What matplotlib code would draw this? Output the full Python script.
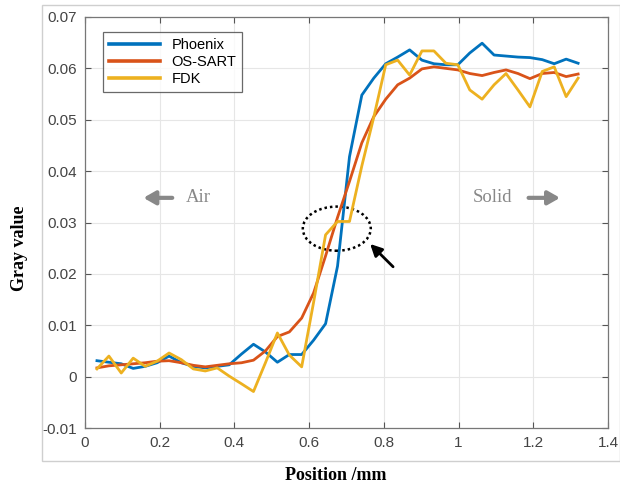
import matplotlib
matplotlib.use("Agg")
import matplotlib.pyplot as plt
from matplotlib.patches import Ellipse, Rectangle

# sample positions (mm)
position = [0.032, 0.064, 0.097, 0.129, 0.161, 0.193, 0.225, 0.258, 0.290, 0.322,
            0.354, 0.386, 0.419, 0.451, 0.483, 0.515, 0.547, 0.580, 0.612, 0.644,
            0.676, 0.708, 0.741, 0.773, 0.805, 0.837, 0.869, 0.902, 0.934, 0.966,
            0.998, 1.030, 1.063, 1.095, 1.127, 1.159, 1.191, 1.224, 1.256, 1.288,
            1.320]

phoenix = [0.0031, 0.0028, 0.0025, 0.0016, 0.0020, 0.0027, 0.0040, 0.0027, 0.0020, 0.0017,
           0.0020, 0.0023, 0.0044, 0.0063, 0.0048, 0.0028, 0.0043, 0.0043, 0.0071, 0.0103,
           0.0215, 0.0428, 0.0548, 0.0581, 0.0609, 0.0622, 0.0636, 0.0616, 0.0609, 0.0607,
           0.0607, 0.0630, 0.0649, 0.0626, 0.0624, 0.0622, 0.0621, 0.0617, 0.0609, 0.0618,
           0.0610]

os_sart = [0.0017, 0.0021, 0.0023, 0.0025, 0.0027, 0.0030, 0.0031, 0.0027, 0.0022, 0.0019,
           0.0022, 0.0025, 0.0027, 0.0032, 0.0050, 0.0078, 0.0087, 0.0114, 0.0163, 0.0235,
           0.0310, 0.0380, 0.0455, 0.0506, 0.0540, 0.0568, 0.0581, 0.0599, 0.0603, 0.0600,
           0.0597, 0.0590, 0.0586, 0.0592, 0.0597, 0.0590, 0.0580, 0.0590, 0.0592, 0.0584,
           0.0589]

fdk = [0.0015, 0.0040, 0.0007, 0.0036, 0.0020, 0.0030, 0.0046, 0.0033, 0.0015, 0.0011,
       0.0017, 0.0001, -0.0014, -0.0029, 0.0027, 0.0085, 0.0042, 0.0019, 0.0145, 0.0276,
       0.0302, 0.0302, 0.0410, 0.0505, 0.0607, 0.0616, 0.0587, 0.0634, 0.0634, 0.0610,
       0.0607, 0.0558, 0.0540, 0.0568, 0.0590, 0.0558, 0.0525, 0.0594, 0.0603, 0.0545,
       0.0581]

labels = ["Phoenix", "OS-SART", "FDK"]
colors = ["#0072BD", "#D95319", "#EDB120"]

xticks = [0, 0.2, 0.4, 0.6, 0.8, 1, 1.2, 1.4]
xticklabels = ["0", "0.2", "0.4", "0.6", "0.8", "1", "1.2", "1.4"]
yticks = [-0.01, 0, 0.01, 0.02, 0.03, 0.04, 0.05, 0.06, 0.07]
yticklabels = ["-0.01", "0", "0.01", "0.02", "0.03", "0.04", "0.05", "0.06", "0.07"]

plt.rcParams["axes.unicode_minus"] = False
plt.rcParams["font.family"] = ["Liberation Sans", "DejaVu Sans"]

fig = plt.figure(figsize=(6.2, 4.88), dpi=100)
# light frame behind the axes, like the MATLAB figure export
fig.patches.append(Rectangle((42 / 620, 1 - 461 / 488), 1 - 42 / 620, 456 / 488,
                             transform=fig.transFigure, fill=False,
                             edgecolor="#cfcfcf", linewidth=1.0))

ax = fig.add_axes([85 / 620, 1 - 428 / 488, (608 - 85) / 620, (428 - 17) / 488])

for y, lab, c in zip([phoenix, os_sart, fdk], labels, colors):
    ax.plot(position, y, color=c, lw=2.0, label=lab)

ax.set_xlim(0, 1.4)
ax.set_ylim(-0.01, 0.07)
ax.set_xticks(xticks)
ax.set_xticklabels(xticklabels)
ax.set_yticks(yticks)
ax.set_yticklabels(yticklabels)
ax.tick_params(direction="in", top=True, right=True, length=4, width=0.8,
               colors="#555555", labelcolor="#444444", labelsize=11, pad=6)
ax.grid(True, color="#e6e6e6", lw=0.8)
ax.set_axisbelow(True)
for s in ax.spines.values():
    s.set_color("#777777")
    s.set_linewidth(0.9)

leg = ax.legend(loc="upper left", bbox_to_anchor=(0.034, 0.963), borderaxespad=0,
                fontsize=10.5, frameon=True, fancybox=False, edgecolor="#444444",
                handlelength=3.5, borderpad=0.4, labelspacing=0.2, handletextpad=0.8)
leg.get_frame().set_linewidth(0.9)
for h in leg.get_lines():
    h.set_linewidth(2.6)

# Air / Solid annotations
gray = "#888888"
ax.annotate("", xy=(0.149, 0.0348), xytext=(0.241, 0.0348),
            arrowprops=dict(arrowstyle="-|>,head_length=0.7,head_width=0.4",
                            color=gray, lw=3))
ax.text(0.269, 0.0348, "Air", color=gray, fontsize=13.5, va="center",
        family=["Liberation Serif"])
ax.text(1.038, 0.0348, "Solid", color=gray, fontsize=13.5, va="center",
        family=["Liberation Serif"])
ax.annotate("", xy=(1.279, 0.0348), xytext=(1.18, 0.0348),
            arrowprops=dict(arrowstyle="-|>,head_length=0.7,head_width=0.4",
                            color=gray, lw=3))

# dotted ellipse around crossing point and black arrow
ax.add_patch(Ellipse((0.674, 0.0288), 0.182, 0.0086, fill=False,
                     edgecolor="black", linestyle=(0, (1, 1.2)), lw=1.8))
ax.annotate("", xy=(0.758, 0.0262), xytext=(0.83, 0.021),
            arrowprops=dict(arrowstyle="-|>,head_length=0.7,head_width=0.35",
                            color="black", lw=2))

fig.text(20 / 620, 1 - 248 / 488, "Gray value", rotation=90, ha="center", va="center",
         fontsize=13, fontweight="bold", family=["Liberation Serif"])
fig.text(336 / 620, 1 - 476 / 488, "Position /mm", ha="center", va="center",
         fontsize=13, fontweight="bold", family=["Liberation Serif"])

fig.savefig("out.png", dpi=100)
